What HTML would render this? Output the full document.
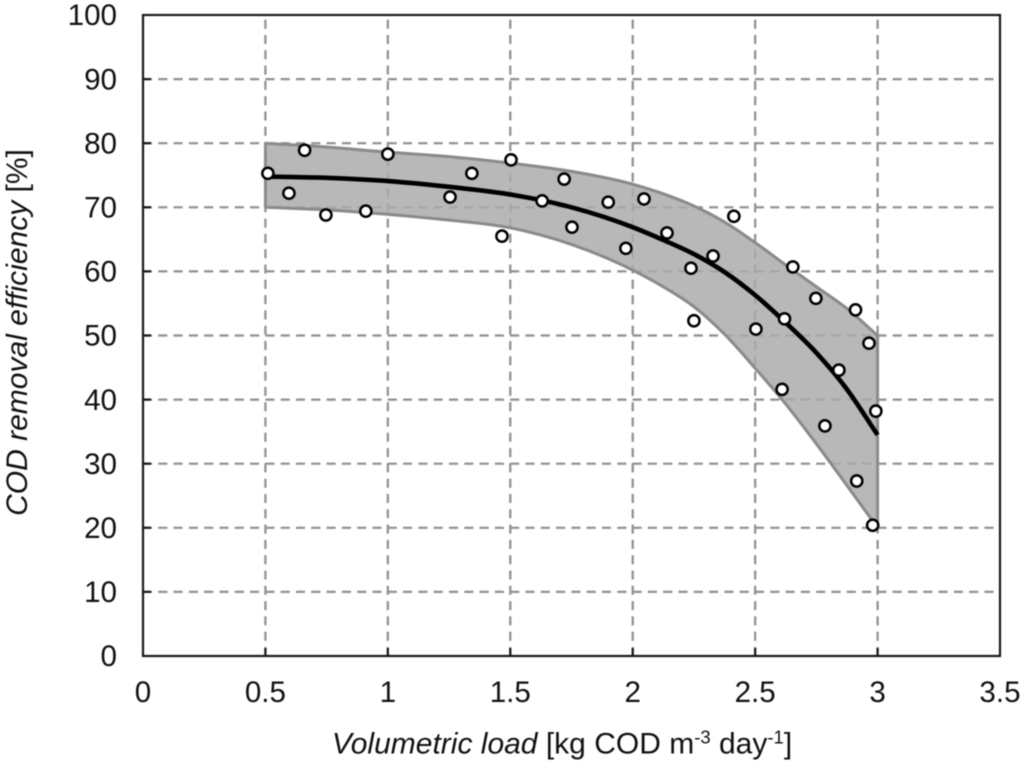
<!DOCTYPE html>
<html>
<head>
<meta charset="utf-8">
<style>
html,body{margin:0;padding:0;background:#fff;width:1024px;height:765px;overflow:hidden}
svg{display:block;filter:blur(0.4px)}
text{font-family:"Liberation Sans",sans-serif;fill:#111}
</style>
</head>
<body>
<svg id="chart" width="1024" height="765" viewBox="0 0 1024 765" xmlns="http://www.w3.org/2000/svg">
  <g id="grid"></g>
  <path id="band" fill="#b8b8b8" stroke="#8a8a8a" stroke-width="3" stroke-linejoin="round"></path>
  <g id="grid-over" opacity="0.45"></g>
  <path id="fit" fill="none" stroke="#000" stroke-width="4.6"></path>
  <g id="points"></g>
  <g id="axes"></g>
  <text x="562" y="753.5" font-size="30" text-anchor="middle"><tspan font-style="italic">Volumetric load</tspan> [kg COD m<tspan font-size="18.5" dy="-10">-3</tspan><tspan dy="10"> day</tspan><tspan font-size="18.5" dy="-10">-1</tspan><tspan dy="10">]</tspan></text>
  <text transform="translate(27,332.5) rotate(-90)" font-size="30" text-anchor="middle"><tspan font-style="italic">COD removal efficiency</tspan> [%]</text>
</svg>
<script>
const xTicks = [0, 0.5, 1, 1.5, 2, 2.5, 3, 3.5];
const xTickLabels = ['0', '0.5', '1', '1.5', '2', '2.5', '3', '3.5'];
const yTicks = [0, 10, 20, 30, 40, 50, 60, 70, 80, 90, 100];
const yTickLabels = ['0', '10', '20', '30', '40', '50', '60', '70', '80', '90', '100'];
const curveX = [0.5, 0.75, 1, 1.25, 1.5, 1.75, 2, 2.125, 2.25, 2.375, 2.5, 2.625, 2.75, 2.875, 3];
const fitY = [74.8, 74.6, 74.1, 73.2, 72, 70, 66.9, 64.9, 62.7, 59.9, 56.3, 52, 47.3, 41.6, 34.5];
const upperY = [80, 79.4, 78.6, 77.9, 76.9, 75.6, 73.6, 72.1, 70.2, 67.7, 64.5, 61, 57.6, 54.2, 50];
const lowerY = [70, 69.6, 68.9, 68, 66.8, 64.2, 60.2, 57.6, 54.5, 50.2, 44.9, 39.3, 33.1, 26.6, 20];
const pointX = [0.51, 0.596, 0.66, 0.747, 0.91, 1.0, 1.254, 1.343, 1.466, 1.503, 1.63, 1.72, 1.752, 1.9, 1.972, 2.046, 2.14, 2.238, 2.25, 2.328, 2.413, 2.503, 2.61, 2.62, 2.654, 2.748, 2.785, 2.842, 2.91, 2.915, 2.965, 2.98, 2.993];
const pointY = [75.3, 72.2, 78.9, 68.8, 69.4, 78.3, 71.6, 75.3, 65.5, 77.4, 71, 74.4, 66.9, 70.8, 63.6, 71.3, 66, 60.5, 52.3, 62.4, 68.6, 51, 41.6, 52.6, 60.7, 55.8, 35.9, 44.6, 54, 27.3, 48.8, 20.4, 38.2];

const NS = 'http://www.w3.org/2000/svg';
const L = 143, R = 1000, T = 15, B = 656;
const sx = v => L + v / 3.5 * (R - L);
const sy = v => B - v / 100 * (B - T);

function mk(parent, tag, attrs) {
  const el = document.createElementNS(NS, tag);
  for (const k in attrs) el.setAttribute(k, attrs[k]);
  parent.appendChild(el);
  return el;
}
function smooth(xs, ys) {
  const p = xs.map((x, i) => [sx(x), sy(ys[i])]);
  let d = 'M' + p[0][0].toFixed(2) + ' ' + p[0][1].toFixed(2);
  for (let i = 0; i < p.length - 1; i++) {
    const a = p[Math.max(i - 1, 0)], b = p[i], c = p[i + 1], e = p[Math.min(i + 2, p.length - 1)];
    const h0 = b[0] - a[0] || c[0] - b[0], h1 = c[0] - b[0], h2 = e[0] - c[0] || h1;
    const m1 = ((b[1] - a[1]) / h0 * h1 + (c[1] - b[1]) / h1 * h0) / (h0 + h1);
    const m2 = ((c[1] - b[1]) / h1 * h2 + (e[1] - c[1]) / h2 * h1) / (h1 + h2);
    const s1 = i === 0 ? (c[1] - b[1]) / h1 : m1;
    const s2 = i === p.length - 2 ? (c[1] - b[1]) / h1 : m2;
    d += 'C' + [b[0] + h1 / 3, b[1] + s1 * h1 / 3, c[0] - h1 / 3, c[1] - s2 * h1 / 3, c[0], c[1]].map(n => n.toFixed(2)).join(' ');
  }
  return d;
}

function drawGrid(g) {
  yTicks.forEach(v => {
    if (v === 0 || v === 100) return;
    const line = mk(g, 'line', {x1: L, x2: R, y1: sy(v), y2: sy(v), stroke: '#929292', 'stroke-width': 2.2, 'stroke-dasharray': '9 6.3'});
    
    
  });
  xTicks.forEach(v => {
    if (v === 0 || v === 3.5) return;
    const line = mk(g, 'line', {x1: sx(v), x2: sx(v), y1: B, y2: T, stroke: '#929292', 'stroke-width': 2.2, 'stroke-dasharray': '9 6.3'});
    
    
  });
}
drawGrid(document.getElementById('grid'));
drawGrid(document.getElementById('grid-over'));

const up = smooth(curveX, upperY);
const lowRev = smooth(curveX.slice().reverse(), lowerY.slice().reverse());
document.getElementById('band').setAttribute('d', up + 'L' + lowRev.slice(1) + 'Z');
document.getElementById('fit').setAttribute('d', smooth(curveX, fitY));

const pts = document.getElementById('points');
pointX.forEach((x, i) => {
  const c = mk(pts, 'circle', {cx: sx(x), cy: sy(pointY[i]), r: 5.6, fill: '#fff', stroke: '#000', 'stroke-width': 2.5});
  
  
});

const axes = document.getElementById('axes');
const frame = mk(axes, 'rect', {x: L, y: T, width: R - L, height: B - T, fill: 'none', stroke: '#1a1a1a', 'stroke-width': 2.2});


xTicks.forEach((v, i) => {
  if (v !== 0 && v !== 3.5) {
    const t = mk(axes, 'line', {x1: sx(v), x2: sx(v), y1: B, y2: B - 8, stroke: '#1a1a1a', 'stroke-width': 2.2});
    
    
  }
  const lab = mk(axes, 'text', {x: sx(v), y: 702, 'font-size': 29.6, 'text-anchor': 'middle'});
  lab.textContent = xTickLabels[i];
  
  
});
yTicks.forEach((v, i) => {
  if (v !== 0 && v !== 100) {
    const t = mk(axes, 'line', {x1: L, x2: L + 8, y1: sy(v), y2: sy(v), stroke: '#1a1a1a', 'stroke-width': 2.2});
    
    
  }
  const lab = mk(axes, 'text', {x: 117, y: sy(v) + 10.2, 'font-size': 29.6, 'text-anchor': 'end'});
  lab.textContent = yTickLabels[i];
  
  
});
</script>
</body>
</html>
